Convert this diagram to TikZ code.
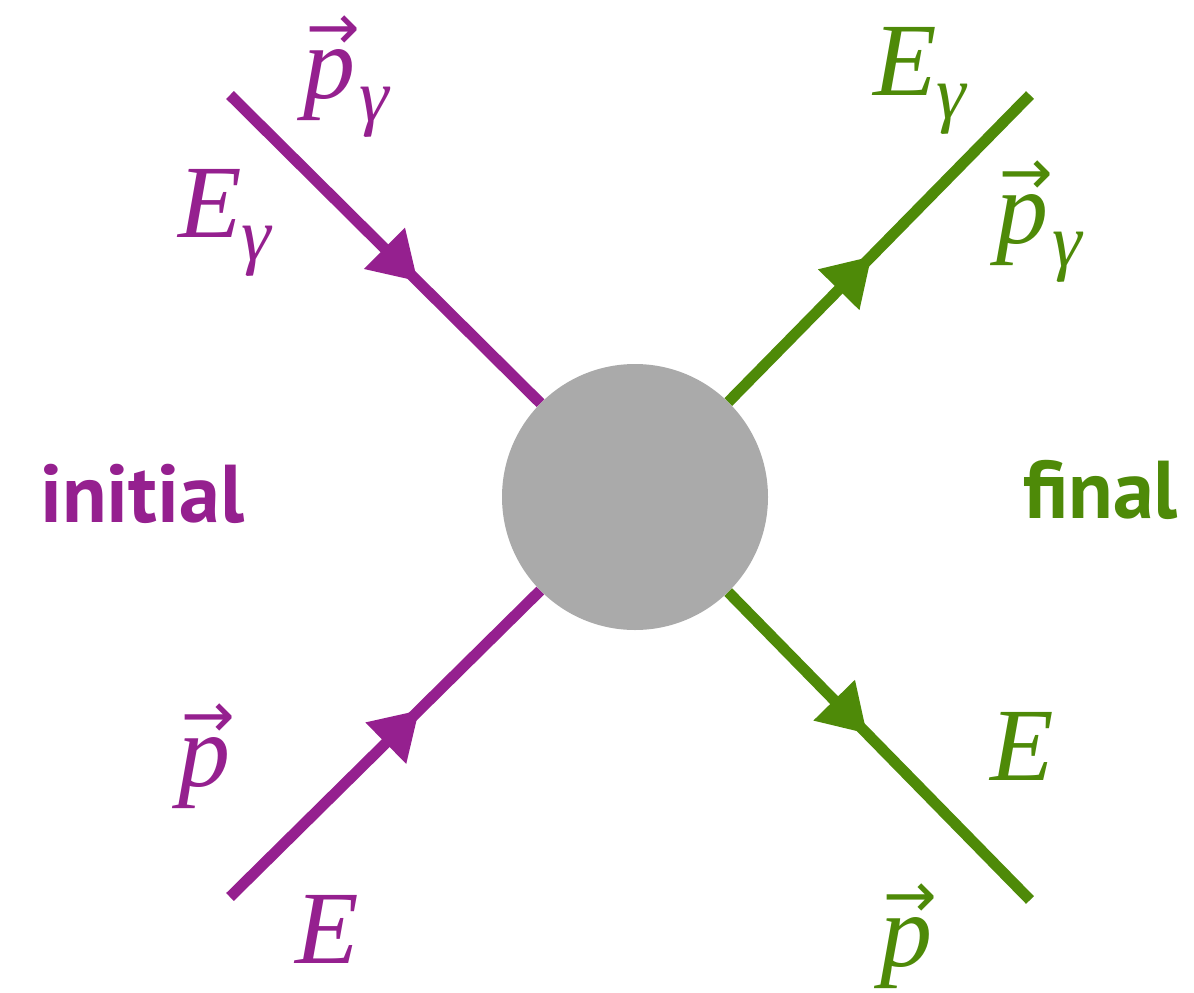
\documentclass[tikz,border=0pt]{standalone}
\usepackage{fontspec}
\setmainfont{Liberation Serif}
\newfontfamily\labfont{PT Sans}
\newfontfamily\arrfont{DejaVu Sans}
\usetikzlibrary{arrows.meta,decorations.markings}
\definecolor{vio}{RGB}{149,32,143}
\definecolor{grn}{RGB}{78,138,8}
\definecolor{blob}{RGB}{170,170,170}
\newcommand{\bigit}{\fontsize{104}{104}\selectfont\itshape}
\newcommand{\subg}{\raisebox{-23pt}{\fontsize{75}{75}\selectfont\itshape γ}}
\newcommand{\vp}{\rlap{\hspace{3pt}\raisebox{49pt}{\arrfont\upshape\fontsize{64}{64}\selectfont →}}p}
\tikzset{
  lbl/.style={anchor=base west, inner sep=0pt, outer sep=0pt, font=\bigit},
  word/.style={anchor=base west, inner sep=0pt, outer sep=0pt, font=\labfont\bfseries\fontsize{82}{82}\selectfont},
  leg/.style={line width=11pt},
  midarrow/.style={postaction={decorate}, decoration={markings, mark=at position #1 with {\arrow{Triangle[length=47pt,width=55pt]}}}}
}
\begin{document}
\begin{tikzpicture}[x=1pt,y=-1pt]
\useasboundingbox (0,0) rectangle (1194,993);
\coordinate (tl) at (230,95);
\coordinate (bl) at (230,897);
\coordinate (tr) at (1030,95);
\coordinate (br) at (1030,900);
\node[circle, fill=blob, minimum size=266pt, inner sep=0pt] (c) at (635,497) {};
\draw[leg, color=vio, midarrow=0.605] (tl) -- (c);
\draw[leg, color=vio, midarrow=0.61] (bl) -- (c);
\draw[leg, color=grn, midarrow=0.475] (c) -- (tr);
\draw[leg, color=grn, midarrow=0.46] (c) -- (br);
% labels
\node[lbl, text=vio] (tlp) at (303,98) {\vp\hspace{4pt}\subg};
\node[lbl, text=vio] (tlE) at (178,237) {E\subg};
\node[lbl, text=grn] (trE) at (873,95) {E\subg};
\node[lbl, text=grn] (trp) at (996,243) {\vp\hspace{4pt}\subg};
\node[lbl, text=vio] (blp) at (178,786) {\vp};
\node[lbl, text=vio] (blE) at (295,963) {E};
\node[lbl, text=grn] (brE) at (990,780) {E};
\node[lbl, text=grn] (brp) at (880,966) {\vp};
\node[word, text=vio] (ini) at (40,522) {initial};
\node[word, text=grn] (fin) at (1023,518) {final};
\end{tikzpicture}
\end{document}
